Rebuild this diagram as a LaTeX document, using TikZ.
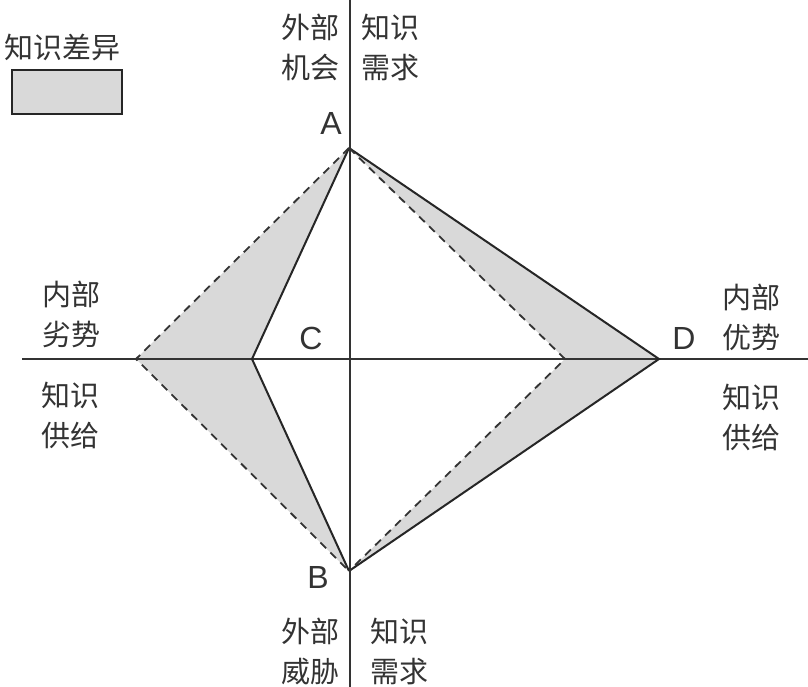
\documentclass[tikz,border=0pt]{standalone}
\usepackage{fontspec}
\setmainfont{Liberation Sans}
\newfontfamily\cjk{Noto Sans CJK SC}

\begin{document}
\begin{tikzpicture}[x=1pt, y=-1pt, thick,
                    axis line/.style={line width=1.4pt, black!80},
                    solid edge/.style={line width=2pt, black!85, line join=miter},
                    dash edge/.style={line width=1.8pt, black!80, dash pattern=on 8pt off 6pt},
                    gap fill/.style={fill=black!15, draw=none},
                    cn label/.style={font=\cjk\fontsize{29}{40}\selectfont, align=center, text=black!80},
                    pt label/.style={font=\fontsize{32}{36}\selectfont, text=black!80}]
  \useasboundingbox (0,0) rectangle (808,687);

  % Punti del diagramma
  \coordinate (A) at (349,148);    % Alto
  \coordinate (B) at (349,571);    % Basso
  \coordinate (Cin) at (252,359);  % Interno sx
  \coordinate (Lout) at (136,359); % Esterno sx
  \coordinate (D) at (659,359);    % Esterno dx
  \coordinate (Rin) at (565,359);  % Interno dx

  % Estremi degli assi
  \coordinate (xl) at (22,359);
  \coordinate (xr) at (808,359);
  \coordinate (yt) at (350,0);
  \coordinate (yb) at (350,687);

  % Zone grigie (differenza)
  \path[gap fill] (A) -- (Lout) -- (B) -- (Cin) -- cycle;
  \path[gap fill] (A) -- (D) -- (B) -- (Rin) -- cycle;

  % Assi
  \draw[axis line] (xl) -- (xr);
  \draw[axis line] (yt) -- (yb);

  % Linee continue e tratteggiate
  \draw[solid edge] (A) -- (Cin) -- (B);
  \draw[solid edge] (A) -- (D) -- (B);
  \draw[dash edge] (A) -- (Lout) -- (B);
  \draw[dash edge] (A) -- (Rin) -- (B);

  % Lettere
  \node[pt label] (la) at (331,123) {A};
  \node[pt label] (lb) at (318,577) {B};
  \node[pt label] (lc) at (311,338) {C};
  \node[pt label] (ld) at (684,338) {D};

  % Testi
  \node[cn label] (opp) at (310,47) {外部\\机会};
  \node[cn label] (needt) at (390,47) {知识\\需求};
  \node[cn label] (weak) at (71,314) {内部\\劣势};
  \node[cn label] (supl) at (70,416) {知识\\供给};
  \node[cn label] (strong) at (751,317) {内部\\优势};
  \node[cn label] (supr) at (751,418) {知识\\供给};
  \node[cn label] (threat) at (310,651) {外部\\威胁};
  \node[cn label] (needb) at (399,651) {知识\\需求};

  % Legenda
  \node[cn label] (legend) at (63,47) {知识差异};
  \draw[line width=2.6pt, black!85, fill=black!15] (12,70) rectangle (122,114);

\end{tikzpicture}
\end{document}
